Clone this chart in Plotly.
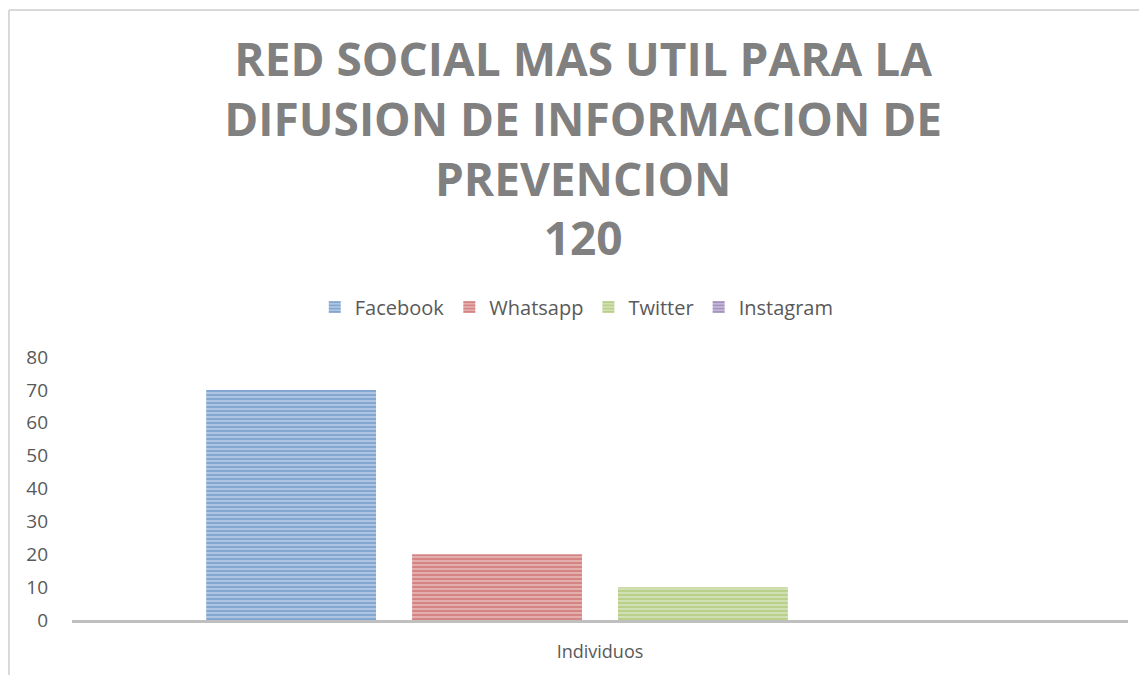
import plotly.graph_objects as go

categories = ["Individuos"]
series_names = ["Facebook", "Whatsapp", "Twitter", "Instagram"]
series_values = [[70], [20], [10], [0]]
dark_colors = ["#4F81BD", "#C0504D", "#9BBB59", "#8064A2"]
light_colors = ["#B9CDE5", "#E6B9B8", "#D7E4BD", "#CCC1DA"]
y_ticks = [0, 10, 20, 30, 40, 50, 60, 70, 80]
title_lines = ["RED SOCIAL MAS UTIL PARA LA", "DIFUSION DE INFORMACION DE", "PREVENCION", "120"]

fig = go.Figure()
for name, vals, dc, lc in zip(series_names, series_values, dark_colors, light_colors):
    fig.add_trace(go.Bar(
        x=categories, y=vals, name=name,
        marker=dict(color=lc, line=dict(width=0),
                    pattern=dict(shape="-", size=4, solidity=0.6,
                                 fgcolor=dc, bgcolor=lc, fillmode="overlay")),
    ))

# page body adds an 8px margin, so the figure is 8px smaller each way
W, H = 1139, 667
L, R, T, B = 64, 19, 349, 55
PW, PH = W - L - R, H - T - B

fig.update_layout(
    width=W, height=H,
    margin=dict(l=L, r=R, t=T, b=B),
    paper_bgcolor="white", plot_bgcolor="white",
    barmode="group", bargap=0.22, bargroupgap=0.175,
    font=dict(family="Open Sans, sans-serif", color="#595959", size=18),
    title=dict(text="<br>".join(title_lines), x=0.505, xanchor="center",
               y=1 - 68 / H, yanchor="top", yref="container",
               font=dict(family="Open Sans, sans-serif", size=46, color="#808080", weight="bold")),
    legend=dict(orientation="h", x=0.478, xanchor="center", y=(H - B - 299) / PH, yanchor="middle",
                font=dict(size=20, color="#595959"), itemwidth=30, traceorder="normal"),
    showlegend=True,
)
fig.update_xaxes(showline=True, linecolor="#BFBFBF", linewidth=3, ticks="", showgrid=False,
                 tickfont=dict(size=18, color="#595959"), ticklabelstandoff=13)
fig.update_yaxes(range=[0, 80], tickvals=y_ticks, showgrid=False, zeroline=False, showline=False,
                 ticks="", tickfont=dict(size=19, color="#595959"), ticklabelstandoff=23)

# chart border (partially visible in the reference)
x0 = (1 - L) / PW
x1 = (W + 10 - L) / PW
y_top = (H - B - 2) / PH
y_bot = (H - B - (H + 10)) / PH
fig.add_shape(type="line", xref="paper", yref="paper", x0=x0, x1=x1, y0=y_top, y1=y_top,
              line=dict(color="#D9D9D9", width=2))
fig.add_shape(type="line", xref="paper", yref="paper", x0=x0, x1=x0, y0=y_top, y1=y_bot,
              line=dict(color="#D9D9D9", width=2))

fig.write_html("out.html")
